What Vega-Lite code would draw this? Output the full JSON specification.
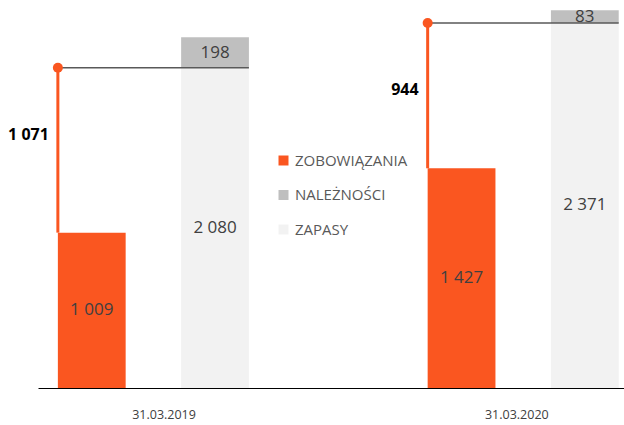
{
  "$schema": "https://vega.github.io/schema/vega-lite/v6.json",
  "width": 586,
  "height": 388,
  "autosize": "none",
  "padding": {"left": 38, "top": 0, "right": 0, "bottom": 37},
  "config": {
    "view": {"stroke": null},
    "font": "Open Sans",
    "locale": {"number": {"decimal": ",", "thousands": " ", "grouping": [3], "currency": ["", ""]}}
  },
  "datasets": {
    "bars": [
      {"date": "31.03.2019", "slot": "2019 Z", "series": "ZOBOWIĄZANIA", "value": 1009},
      {"date": "31.03.2019", "slot": "2019 A", "series": "ZAPASY", "value": 2080},
      {"date": "31.03.2019", "slot": "2019 A", "series": "NALEŻNOŚCI", "value": 198},
      {"date": "31.03.2020", "slot": "2020 Z", "series": "ZOBOWIĄZANIA", "value": 1427},
      {"date": "31.03.2020", "slot": "2020 A", "series": "ZAPASY", "value": 2371},
      {"date": "31.03.2020", "slot": "2020 A", "series": "NALEŻNOŚCI", "value": 83}
    ],
    "gap": [
      {"date": "31.03.2019", "slotZ": "2019 Z", "slotA": "2019 A", "zob": 1009, "zap": 2080, "diff": 1071},
      {"date": "31.03.2020", "slotZ": "2020 Z", "slotA": "2020 A", "zob": 1427, "zap": 2371, "diff": 944}
    ]
  },
  "layer": [
    {
      "data": {"name": "bars"},
      "mark": {"type": "bar"},
      "encoding": {
        "x": {
          "field": "slot",
          "type": "nominal",
          "scale": {"domain": ["2019 Z", "2019 A", "gap", "2020 Z", "2020 A"], "paddingInner": 0.45, "paddingOuter": 0.102, "align": 0.79},
          "axis": {
            "title": null,
            "values": ["2019 A", "2020 A"],
            "labelExpr": "datum.value == '2019 A' ? '31.03.2019' : '31.03.2020'",
            "labelOffset": {"condition": {"test": "datum.value == '2019 A'", "value": -51}, "value": -68},
            "labelAngle": 0,
            "ticks": false,
            "grid": false,
            "domainColor": "#000000",
            "domainWidth": 1,
            "labelFontSize": 12.5,
            "labelColor": "#404040",
            "labelPadding": 20
          }
        },
        "y": {"field": "value", "type": "quantitative", "stack": "zero", "scale": {"domain": [0, 2520], "nice": false}, "axis": null},
        "color": {
          "field": "series",
          "type": "nominal",
          "scale": {"domain": ["ZOBOWIĄZANIA", "NALEŻNOŚCI", "ZAPASY"], "range": ["#FA5620", "#BFBFBF", "#F2F2F2"]},
          "legend": {
            "orient": "none",
            "legendX": 238,
            "legendY": 153,
            "title": null,
            "symbolType": "square",
            "symbolSize": 100,
            "symbolStrokeWidth": 0,
            "labelFontSize": 15,
            "labelColor": "#595959",
            "rowPadding": 18.5,
            "labelOffset": 4
          }
        },
        "order": {"field": "series", "sort": "descending"}
      }
    },
    {
      "data": {"name": "bars"},
      "transform": [
        {"stack": "value", "groupby": ["slot"], "sort": [{"field": "series", "order": "descending"}], "as": ["v0", "v1"]},
        {"fold": ["v0", "v1"], "as": ["edge", "pos"]},
        {"aggregate": [{"op": "mean", "field": "pos", "as": "mid"}], "groupby": ["slot", "series", "value"]}
      ],
      "mark": {"type": "text", "fontSize": 17, "color": "#404040", "baseline": "middle"},
      "encoding": {
        "x": {"field": "slot", "type": "nominal"},
        "y": {"field": "mid", "type": "quantitative"},
        "text": {"field": "value", "type": "quantitative", "format": ","}
      }
    },
    {
      "data": {"name": "gap"},
      "mark": {"type": "rule", "color": "#FA5620", "strokeWidth": 3},
      "encoding": {
        "x": {"field": "slotZ", "type": "nominal", "bandPosition": 0},
        "y": {"field": "zob", "type": "quantitative"},
        "y2": {"field": "zap"}
      }
    },
    {
      "data": {"name": "gap"},
      "mark": {"type": "rule", "color": "#595959", "strokeWidth": 1.5},
      "encoding": {
        "x": {"field": "slotZ", "type": "nominal", "bandPosition": 0},
        "x2": {"field": "slotA", "bandPosition": 1},
        "y": {"field": "zap", "type": "quantitative"}
      }
    },
    {
      "data": {"name": "gap"},
      "mark": {"type": "point", "filled": true, "color": "#FA5620", "opacity": 1, "size": 100},
      "encoding": {
        "x": {"field": "slotZ", "type": "nominal", "bandPosition": 0},
        "y": {"field": "zap", "type": "quantitative"}
      }
    },
    {
      "data": {"name": "gap"},
      "mark": {"type": "text", "fontSize": 16, "fontWeight": "bold", "color": "#000000", "align": "right", "baseline": "middle", "dx": -9, "dy": 67},
      "encoding": {
        "x": {"field": "slotZ", "type": "nominal", "bandPosition": 0},
        "y": {"field": "zap", "type": "quantitative"},
        "text": {"field": "diff", "type": "quantitative", "format": ","}
      }
    }
  ]
}
